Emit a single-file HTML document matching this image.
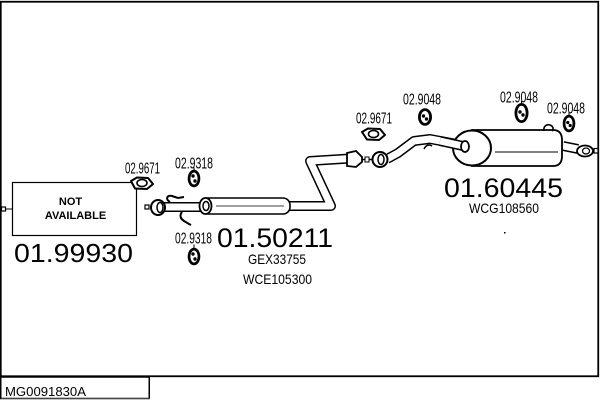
<!DOCTYPE html>
<html><head><meta charset="utf-8"><style>
html,body{margin:0;padding:0;background:#fff;}
svg{display:block;}
text{font-family:"Liberation Sans",sans-serif;fill:#000;}
</style></head><body>
<svg width="600" height="400" viewBox="0 0 600 400" xmlns="http://www.w3.org/2000/svg">
<!-- frame -->
<rect x="0.75" y="1.75" width="597.5" height="374.5" fill="none" stroke="#000" stroke-width="1.8"/>
<rect x="0.75" y="377" width="148.5" height="21.5" fill="none" stroke="#000" stroke-width="1.5"/>
<line x1="1" y1="399" x2="150" y2="399" stroke="#888" stroke-width="1"/>
<text x="5" y="396" font-size="13" textLength="81" lengthAdjust="spacingAndGlyphs">MG0091830A</text>

<!-- NOT AVAILABLE box -->
<rect x="12.5" y="182.5" width="124" height="53" fill="#fff" stroke="#000" stroke-width="1.2"/>
<rect x="1.5" y="207" width="4" height="4" fill="#fff" stroke="#000" stroke-width="1.2"/>
<line x1="5.5" y1="209" x2="12" y2="209" stroke="#000" stroke-width="1"/>
<text x="70.5" y="205" font-size="11" font-weight="bold" text-anchor="middle">NOT</text>
<text x="75.5" y="219" font-size="11" font-weight="bold" text-anchor="middle">AVAILABLE</text>
<text x="14" y="262" font-size="26" textLength="119" lengthAdjust="spacingAndGlyphs">01.99930</text>

<!-- small labels -->
<g font-size="15.5">
<text x="125" y="173.5" textLength="35" lengthAdjust="spacingAndGlyphs">02.9671</text>
<text x="175" y="168.5" textLength="38" lengthAdjust="spacingAndGlyphs">02.9318</text>
<text x="175" y="243.5" textLength="37" lengthAdjust="spacingAndGlyphs">02.9318</text>
<text x="356" y="123.5" textLength="36" lengthAdjust="spacingAndGlyphs">02.9671</text>
<text x="403" y="104.5" textLength="38" lengthAdjust="spacingAndGlyphs">02.9048</text>
<text x="500" y="102.5" textLength="38" lengthAdjust="spacingAndGlyphs">02.9048</text>
<text x="547" y="113.5" textLength="38" lengthAdjust="spacingAndGlyphs">02.9048</text>
</g>

<!-- part numbers -->
<text x="217" y="247" font-size="27" textLength="116" lengthAdjust="spacingAndGlyphs">01.50211</text>
<text x="248" y="264" font-size="14" textLength="58" lengthAdjust="spacingAndGlyphs">GEX33755</text>
<text x="243" y="284" font-size="14" textLength="69" lengthAdjust="spacingAndGlyphs">WCE105300</text>
<text x="444" y="197" font-size="27" textLength="119" lengthAdjust="spacingAndGlyphs">01.60445</text>
<text x="469" y="213" font-size="14" textLength="70" lengthAdjust="spacingAndGlyphs">WCG108560</text>
<rect x="504" y="232" width="1.5" height="1.5" fill="#000"/>

<!-- gaskets 02.9671 -->
<g fill="#fff" stroke="#000" stroke-width="2">
<path d="M131 181 L137 177.5 L148 178 L153 184 L147 189 L135 188.5 Z" stroke-linejoin="round"/>
<ellipse cx="142" cy="183" rx="5" ry="3.5" stroke-width="1.6"/>
<path d="M362 132 L368 128.5 L380 129 L385 135 L379 140 L367 139.5 Z" stroke-linejoin="round"/>
<ellipse cx="373.5" cy="134" rx="5" ry="3.5" stroke-width="1.6"/>
</g>

<!-- hangers -->
<g>
<g transform="translate(194,178.5)"><ellipse rx="6.3" ry="8.8" fill="#000"/><ellipse rx="3.6" ry="6" fill="#fff"/><circle cx="-1" cy="-2.5" r="1.7" fill="#000"/><circle cx="1" cy="2.5" r="1.7" fill="#000"/><line x1="0" y1="-8" x2="0" y2="-11" stroke="#000"/></g>
<g transform="translate(194,256.5)"><ellipse rx="6.3" ry="8.8" fill="#000"/><ellipse rx="3.6" ry="6" fill="#fff"/><circle cx="-1" cy="-2.5" r="1.7" fill="#000"/><circle cx="1" cy="2.5" r="1.7" fill="#000"/><line x1="0" y1="-8" x2="0" y2="-12" stroke="#000"/></g>
<g transform="translate(425,117)"><ellipse rx="7" ry="8.8" fill="#000"/><ellipse rx="4.2" ry="6" fill="#fff"/><circle cx="-1.5" cy="-1" r="1.7" fill="#000"/><circle cx="1.5" cy="2" r="1.7" fill="#000"/></g>
<g transform="translate(521.5,113)"><ellipse rx="7" ry="10" fill="#000"/><ellipse rx="4.2" ry="7.2" fill="#fff"/><circle cx="-1.5" cy="-1" r="1.7" fill="#000"/><circle cx="1.5" cy="2" r="1.7" fill="#000"/><line x1="0" y1="-10" x2="0" y2="-12" stroke="#000"/></g>
<g transform="translate(569,123.5)"><ellipse rx="6.3" ry="8.8" fill="#000"/><ellipse rx="3.6" ry="6" fill="#fff"/><circle cx="-1.2" cy="-1" r="1.6" fill="#000"/><circle cx="1.2" cy="2" r="1.6" fill="#000"/><line x1="0" y1="-8" x2="0" y2="-11" stroke="#000"/></g>
</g>

<!-- front pipe section -->
<rect x="145" y="205" width="4" height="4" fill="#fff" stroke="#000" stroke-width="1.2"/>
<path d="M162 207 L202 207" stroke="#000" stroke-width="10" fill="none"/>
<path d="M162 207 L202 207" stroke="#fff" stroke-width="7" fill="none"/>
<ellipse cx="158" cy="207.5" rx="7" ry="7.5" fill="#fff" stroke="#000" stroke-width="2"/>
<ellipse cx="160" cy="207.5" rx="3" ry="5" fill="#fff" stroke="#000" stroke-width="1.5"/>
<!-- brackets -->
<path d="M170 202 C165 199,167 195,172 196 L178 198 L184 197" fill="none" stroke="#000" stroke-width="2"/>
<path d="M182 212 C179 216,181 219,184 221 L189 224 L191 225" fill="none" stroke="#000" stroke-width="2"/>

<!-- muffler 1 + pipe -->
<path d="M288 206 L331 206 L310 161 L350 158.5" stroke="#000" stroke-width="10" fill="none" stroke-linejoin="round"/>
<path d="M288 206 L331 206 L310 161 L350 158.5" stroke="#fff" stroke-width="7" fill="none" stroke-linejoin="round"/>
<rect x="201" y="198" width="89" height="16" rx="7" fill="#fff" stroke="#000" stroke-width="1.6"/>
<ellipse cx="205.5" cy="206" rx="6" ry="8" fill="#fff" stroke="#000" stroke-width="1.8"/>
<ellipse cx="206" cy="206" rx="3" ry="4.5" fill="#fff" stroke="#000" stroke-width="1.5"/>
<line x1="216" y1="206" x2="284" y2="206" stroke="#000" stroke-width="0.8"/>

<!-- middle connection -->
<path d="M347 153 L356 151 L362 157 L362 162 L356 167 L347 166 Z" fill="#fff" stroke="#000" stroke-width="1.8"/>
<line x1="362" y1="159.5" x2="372" y2="159.5" stroke="#000" stroke-width="1.5"/>
<rect x="365" y="157" width="4" height="5" fill="#fff" stroke="#000" stroke-width="1"/>
<path d="M387 159 L398 153 L414 141 L430 139 L462 145" stroke="#000" stroke-width="10" fill="none" stroke-linejoin="round"/>
<path d="M387 159 L398 153 L414 141 L430 139 L462 145" stroke="#fff" stroke-width="7" fill="none" stroke-linejoin="round"/>
<ellipse cx="380" cy="159.5" rx="7.5" ry="7.5" fill="#fff" stroke="#000" stroke-width="2"/>
<ellipse cx="381" cy="159.5" rx="3" ry="5" fill="#fff" stroke="#000" stroke-width="1.5"/>
<path d="M424 149 C426 145,429 144,432 146" fill="none" stroke="#000" stroke-width="1.5"/>

<!-- rear muffler -->
<path d="M563 146 L578 149" stroke="#000" stroke-width="10" fill="none"/>
<path d="M563 146 L578 149" stroke="#fff" stroke-width="7" fill="none"/>
<path d="M472 130 L553 130 Q562 130 562 140 L562 156 Q562 166 553 166 L472 166 Z" fill="#fff" stroke="#000" stroke-width="1.8"/>
<ellipse cx="472" cy="148" rx="19" ry="17.5" fill="#fff" stroke="#000" stroke-width="2"/>
<path d="M440 141 L463 146" stroke="#000" stroke-width="10" fill="none"/>
<path d="M440 141 L463 146" stroke="#fff" stroke-width="7" fill="none"/>
<ellipse cx="465" cy="146.5" rx="4" ry="5.5" fill="#fff" stroke="#000" stroke-width="1.8"/>
<line x1="495" y1="152" x2="558" y2="152" stroke="#000" stroke-width="0.9"/>
<path d="M544 131 C543 126,547 124,550 125 C553 126,554 129,552 131" fill="none" stroke="#000" stroke-width="1.6"/>
<ellipse cx="585" cy="151" rx="8" ry="5.5" fill="#fff" stroke="#000" stroke-width="1.8"/>
<ellipse cx="586" cy="151" rx="3.5" ry="3" fill="#fff" stroke="#000" stroke-width="1.2"/>
<rect x="594" y="148.5" width="4" height="4.5" fill="#fff" stroke="#000" stroke-width="1.2"/>
</svg>
</body></html>
